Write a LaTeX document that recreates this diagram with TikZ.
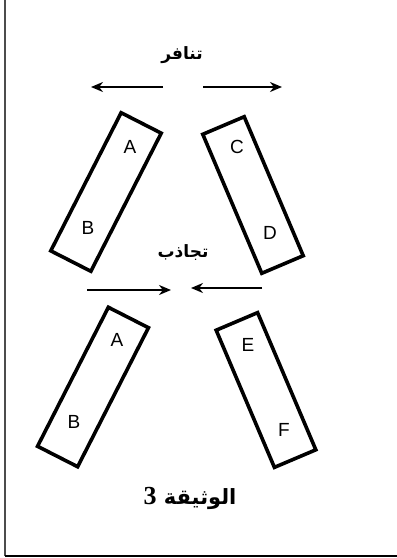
\documentclass[tikz,border=0pt]{standalone}
\usepackage{fontspec}
\setmainfont{Liberation Sans}
\newfontfamily\arabicfont[Script=Arabic]{DejaVu Sans}
\newfontfamily\digitfont{Liberation Serif}
\TeXXeTstate=1
\usetikzlibrary{arrows.meta,positioning,calc}

\tikzset{
  magnet/.style={draw,line width=3.6pt,minimum width=#1,minimum height=45pt,inner sep=0pt},
  pole/.style={font=\fontsize{19}{21}\selectfont},
  force/.style={line width=2.2pt,-{Stealth[length=12pt,width=10pt]}},
  arlabel/.style={font=\arabicfont\bfseries\fontsize{17}{19}\selectfont}
}

\begin{document}
\begin{tikzpicture}[x=1pt,y=-1pt]
      \useasboundingbox (0,0) rectangle (397,558);
      % Frame
      \draw[line width=1.6pt,gray!60!black] (5,0) -- (5,556);
      \draw[line width=1.6pt] (5,556) -- (397,556);
      % Repulsion
      \node[arlabel] (repel) at (182,55) {\beginR تنافر\endR};
      \coordinate (repL0) at (163,87);
      \coordinate (repL1) at (91,87);
      \coordinate (repR0) at (203,87);
      \coordinate (repR1) at (282,87);
      \draw[force] (repL0) -- (repL1);
      \draw[force] (repR0) -- (repR1);
      % Upper pair of magnets
      \node[magnet=155pt,rotate=63] (magAB) at (106,192) {};
      \node[magnet=151pt,rotate=-67] (magCD) at (253,195) {};
      \node[pole] (poleA) at (130,147) {A};
      \node[pole] (poleB) at (88,228) {B};
      \node[pole] (poleC) at (237,147) {C};
      \node[pole] (poleD) at (270,233) {D};
      % Attraction
      \node[arlabel] (attract) at (183,253) {\beginR تجاذب\endR};
      \coordinate (attL0) at (87,290);
      \coordinate (attL1) at (171,290);
      \coordinate (attR0) at (262,288);
      \coordinate (attR1) at (191,288);
      \draw[force] (attL0) -- (attL1);
      \draw[force] (attR0) -- (attR1);
      % Lower pair of magnets
      \node[magnet=156pt,rotate=63] (magAB2) at (93,387) {};
      \node[magnet=149pt,rotate=-67] (magEF) at (266,390) {};
      \node[pole] (poleA2) at (117,340) {A};
      \node[pole] (poleB2) at (74,422) {B};
      \node[pole] (poleE) at (248,345) {E};
      \node[pole] (poleF) at (284,430) {F};
      % Caption
      \node[font=\arabicfont\bfseries\fontsize{21}{23}\selectfont] (doc) at (190,498)
        {\beginR الوثيقة {\digitfont\bfseries\fontsize{26}{28}\selectfont 3}\endR};
    \end{tikzpicture}
\end{document}
